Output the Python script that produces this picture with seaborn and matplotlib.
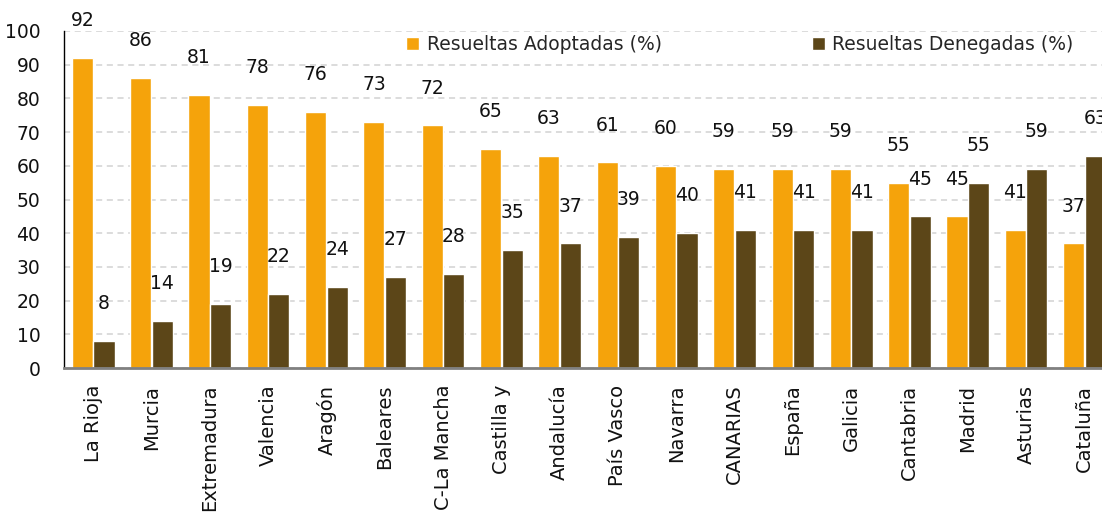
import matplotlib
matplotlib.use("Agg")
import matplotlib.pyplot as plt
import seaborn as sns
import pandas as pd
import numpy as np

regions = ["La Rioja", "Murcia", "Extremadura", "Valencia", "Aragón", "Baleares",
           "C-La Mancha", "Castilla y", "Andalucía", "País Vasco", "Navarra",
           "CANARIAS", "España", "Galicia", "Cantabria", "Madrid", "Asturias", "Cataluña"]
adoptadas = [92, 86, 81, 78, 76, 73, 72, 65, 63, 61, 60, 59, 59, 59, 55, 45, 41, 37]
denegadas = [8, 14, 19, 22, 24, 27, 28, 35, 37, 39, 40, 41, 41, 41, 45, 55, 59, 63]
series_names = ["Resueltas Adoptadas (%)", "Resueltas Denegadas (%)"]
yticks = list(range(0, 101, 10))

df = pd.DataFrame({
    "region": regions * 2,
    "valor": adoptadas + denegadas,
    "serie": [series_names[0]] * len(regions) + [series_names[1]] * len(regions),
})

sns.set_theme(style="white")
plt.rcParams["font.family"] = ["DejaVu Sans"]
FS = 13.5

fig = plt.figure(figsize=(11.02, 5.17), dpi=100)
ax = fig.add_axes([64 / 1102, 149 / 517, (1113.6 - 64) / 1102, 337 / 517])

sns.barplot(data=df, x="region", y="valor", hue="serie", order=regions,
            hue_order=series_names, palette=["#F5A30B", "#5C4618"],
            width=0.74, gap=0.02, saturation=1, ax=ax, errorbar=None)

ax.set_ylim(0, 100)
ax.set_xlim(-0.5, len(regions) - 0.5)
ax.set_yticks(yticks)
ax.set_yticklabels([str(t) for t in yticks], fontsize=FS, color="#111111")
ax.set_xlabel("")
ax.set_ylabel("")

ax.set_xticks(range(len(regions)))
ax.set_xticklabels(regions, rotation=90, fontsize=14, color="#111111")
ax.tick_params(axis="x", which="major", length=0, pad=12)
ax.set_xticks(np.arange(-0.5, len(regions), 1.0), minor=True)
ax.tick_params(axis="x", which="minor", length=7, width=1.2, color="#333333", direction="out")
ax.tick_params(axis="y", which="major", length=7, width=1.5, color="#808080", direction="out", pad=10)

ax.yaxis.grid(True, linestyle=(0, (4, 3)), color="#d2d2d2", linewidth=1.1)
ax.set_axisbelow(True)

for s in ["top", "right"]:
    ax.spines[s].set_visible(False)
ax.spines["left"].set_color("#000000")
ax.spines["left"].set_linewidth(1.0)
ax.spines["bottom"].set_color("#808080")
ax.spines["bottom"].set_linewidth(2.0)

for cont, vals in zip(ax.containers, [adoptadas, denegadas]):
    ax.bar_label(cont, labels=[f"{v:.0f}" for v in vals], padding=20,
                 fontsize=FS, color="#111111")

ax.legend(loc="center", bbox_to_anchor=(0.644, 0.961), ncol=2, frameon=False,
          handlelength=0.7, handleheight=0.7, columnspacing=8.0,
          handletextpad=0.4, fontsize=FS)

fig.savefig("out.png", dpi=100)
